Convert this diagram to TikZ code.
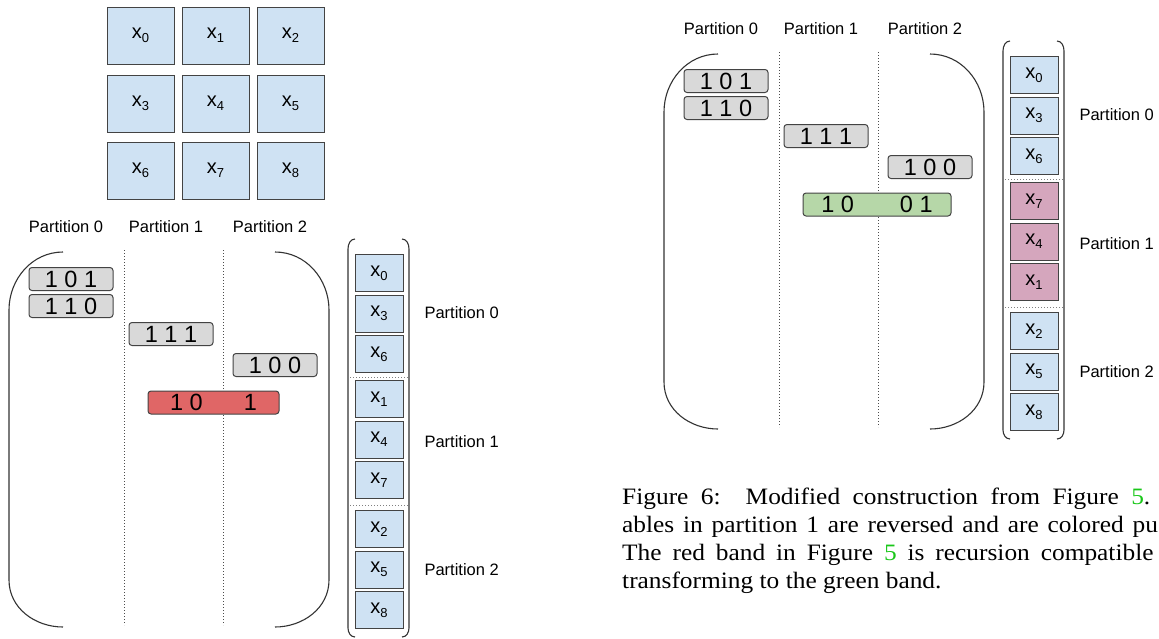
\documentclass[tikz,border=0pt]{standalone}
\usepackage{fontspec}
\setmainfont{Liberation Sans}
\newfontfamily\capFamily{Liberation Serif}
\usetikzlibrary{positioning}
\definecolor{cellBlue}{HTML}{CFE2F3}
\definecolor{cellPink}{HTML}{D5A6BD}
\definecolor{bitGray}{HTML}{D9D9D9}
\definecolor{bandRed}{HTML}{E06666}
\definecolor{bandGreen}{HTML}{B6D7A8}
\definecolor{edgeGray}{HTML}{434343}
\definecolor{refGreen}{rgb}{0.1,0.78,0.1}
\newcommand{\xvar}[1]{x\raisebox{-4pt}{\fontsize{13}{13}\selectfont #1}}

\begin{document}
\begin{tikzpicture}[x=1pt,y=-1pt]
\tikzset{cellFont/.style={font=\fontsize{20}{22}\selectfont}}
\tikzset{bitFont/.style={font=\fontsize{23.5}{25}\selectfont}}
\tikzset{partFont/.style={font=\fontsize{16.5}{18}\selectfont}}
\tikzset{capFont/.style={font=\capFamily\fontsize{23.5}{27}\selectfont}}
\tikzset{gridCell/.style={draw=edgeGray,fill=cellBlue,line width=1pt,minimum width=67pt,minimum height=57pt,inner sep=0pt,cellFont}}
\tikzset{vecCell/.style={draw=edgeGray,fill=cellBlue,line width=1pt,minimum width=48pt,minimum height=37pt,inner sep=0pt,cellFont}}
\tikzset{bitBox/.style={draw=edgeGray,fill=bitGray,rounded corners=3pt,line width=1pt,minimum width=84pt,minimum height=23pt,inner sep=0pt,text height=16.5pt,text depth=0pt,bitFont}}
\tikzset{sepLine/.style={draw=black!70,dotted,line width=1pt}}
\tikzset{parenLine/.style={draw=black!80,line width=1.1pt}}

\useasboundingbox (0,0) rectangle (1159,638);

% grid of variables
\node[gridCell] (g0) at (140.5,35.5) {\xvar{0}};
\node[gridCell,right=7pt of g0] (g1) {\xvar{1}};
\node[gridCell,right=7pt of g1] (g2) {\xvar{2}};
\node[gridCell,below=10pt of g0] (g3) {\xvar{3}};
\node[gridCell,right=7pt of g3] (g4) {\xvar{4}};
\node[gridCell,right=7pt of g4] (g5) {\xvar{5}};
\node[gridCell,below=9pt of g3] (g6) {\xvar{6}};
\node[gridCell,right=7pt of g6] (g7) {\xvar{7}};
\node[gridCell,right=7pt of g7] (g8) {\xvar{8}};

% original construction
\node[partFont] (p0A) at (66,227) {Partition 0};
\node[partFont] (p1A) at (166,227) {Partition 1};
\node[partFont] (p2A) at (270,227) {Partition 2};

\draw[parenLine] (63,252) to[out=180,in=90] (9,310) -- (9,580) to[out=-90,in=180] (63,627);
\draw[parenLine] (275,252) to[out=0,in=90] (329,310) -- (329,580) to[out=-90,in=0] (275,627);
\draw[sepLine] (124,250) -- (124,625);
\draw[sepLine] (223,250) -- (223,625);

\node[bitBox] (b101A) at (71,279) {1 0 1};
\node[bitBox,below=3pt of b101A] (b110A) {1 1 0};
\node[bitBox] (b111A) at (171,334) {1 1 1};
\node[bitBox] (b100A) at (275,365) {1 0 0};
\node[bitBox,fill=bandRed,minimum width=131pt] (bandA) at (213.5,402.5) {1 0\hspace{41pt}1};

\draw[parenLine] (355,239) to[out=180,in=90] (348,249) -- (348,628) to[out=-90,in=180] (355,637);
\draw[parenLine] (402,239) to[out=0,in=90] (409,249) -- (409,628) to[out=-90,in=0] (402,637);
\node[vecCell] (v0A) at (379,273) {\xvar{0}};
\node[vecCell,below=2.5pt of v0A] (v3A) {\xvar{3}};
\node[vecCell,below=2.5pt of v3A] (v6A) {\xvar{6}};
\node[vecCell,below=7pt of v6A] (v1A) {\xvar{1}};
\node[vecCell,below=2.5pt of v1A] (v4A) {\xvar{4}};
\node[vecCell,below=2.5pt of v4A] (v7A) {\xvar{7}};
\node[vecCell,below=11pt of v7A] (v2A) {\xvar{2}};
\node[vecCell,below=2.5pt of v2A] (v5A) {\xvar{5}};
\node[vecCell,below=2.5pt of v5A] (v8A) {\xvar{8}};
\draw[sepLine,draw=gray] (350,377) -- (408,377);
\draw[sepLine,draw=gray] (350,505) -- (408,505);

\node[partFont,anchor=west] (q0A) at (421,313) {Partition 0};
\node[partFont,anchor=west] (q1A) at (421,442) {Partition 1};
\node[partFont,anchor=west] (q2A) at (421,570) {Partition 2};

% modified construction
\begin{scope}[shift={(655,-198)}]
\node[partFont] (p0B) at (66,227) {Partition 0};
\node[partFont] (p1B) at (166,227) {Partition 1};
\node[partFont] (p2B) at (270,227) {Partition 2};

\draw[parenLine] (63,252) to[out=180,in=90] (9,310) -- (9,580) to[out=-90,in=180] (63,627);
\draw[parenLine] (275,252) to[out=0,in=90] (329,310) -- (329,580) to[out=-90,in=0] (275,627);
\draw[sepLine] (124,250) -- (124,625);
\draw[sepLine] (223,250) -- (223,625);

\node[bitBox] (b101B) at (71,279) {1 0 1};
\node[bitBox,below=3pt of b101B] (b110B) {1 1 0};
\node[bitBox] (b111B) at (171,334) {1 1 1};
\node[bitBox] (b100B) at (275,365) {1 0 0};
\node[bitBox,fill=bandGreen,minimum width=148pt] (bandB) at (222,402.5) {1 0\hspace{46pt}0 1};

\draw[parenLine] (355,239) to[out=180,in=90] (348,249) -- (348,628) to[out=-90,in=180] (355,637);
\draw[parenLine] (402,239) to[out=0,in=90] (409,249) -- (409,628) to[out=-90,in=0] (402,637);
\node[vecCell] (v0B) at (379,273) {\xvar{0}};
\node[vecCell,below=2.5pt of v0B] (v3B) {\xvar{3}};
\node[vecCell,below=2.5pt of v3B] (v6B) {\xvar{6}};
\node[vecCell,fill=cellPink,below=7pt of v6B] (v7B) {\xvar{7}};
\node[vecCell,fill=cellPink,below=2.5pt of v7B] (v4B) {\xvar{4}};
\node[vecCell,fill=cellPink,below=2.5pt of v4B] (v1B) {\xvar{1}};
\node[vecCell,below=11pt of v1B] (v2B) {\xvar{2}};
\node[vecCell,below=2.5pt of v2B] (v5B) {\xvar{5}};
\node[vecCell,below=2.5pt of v5B] (v8B) {\xvar{8}};
\draw[sepLine,draw=gray] (350,377) -- (408,377);
\draw[sepLine,draw=gray] (350,505) -- (408,505);

\node[partFont,anchor=west] (q0B) at (421,313) {Partition 0};
\node[partFont,anchor=west] (q1B) at (421,442) {Partition 1};
\node[partFont,anchor=west] (q2B) at (421,570) {Partition 2};
\end{scope}

% caption
\node[capFont,anchor=base west,inner sep=0pt] (cap1) at (622,504) {\scalebox{1.08}[1]{\makebox[489pt][s]{Figure 6:\ \ Modified construction from Figure \textcolor{refGreen}{5}.}}};
\node[capFont,anchor=base west,inner sep=0pt] (cap2) at (622,532) {\scalebox{1.08}[1]{\makebox[496pt][s]{ables in partition 1 are reversed and are colored pu}}};
\node[capFont,anchor=base west,inner sep=0pt] (cap3) at (622,560) {\scalebox{1.08}[1]{\makebox[492pt][s]{The red band in Figure \textcolor{refGreen}{5} is recursion compatible}}};
\node[capFont,anchor=base west,inner sep=0pt] (cap4) at (622,588) {\scalebox{1.08}[1]{transforming to the green band.}};
\end{tikzpicture}
\end{document}
